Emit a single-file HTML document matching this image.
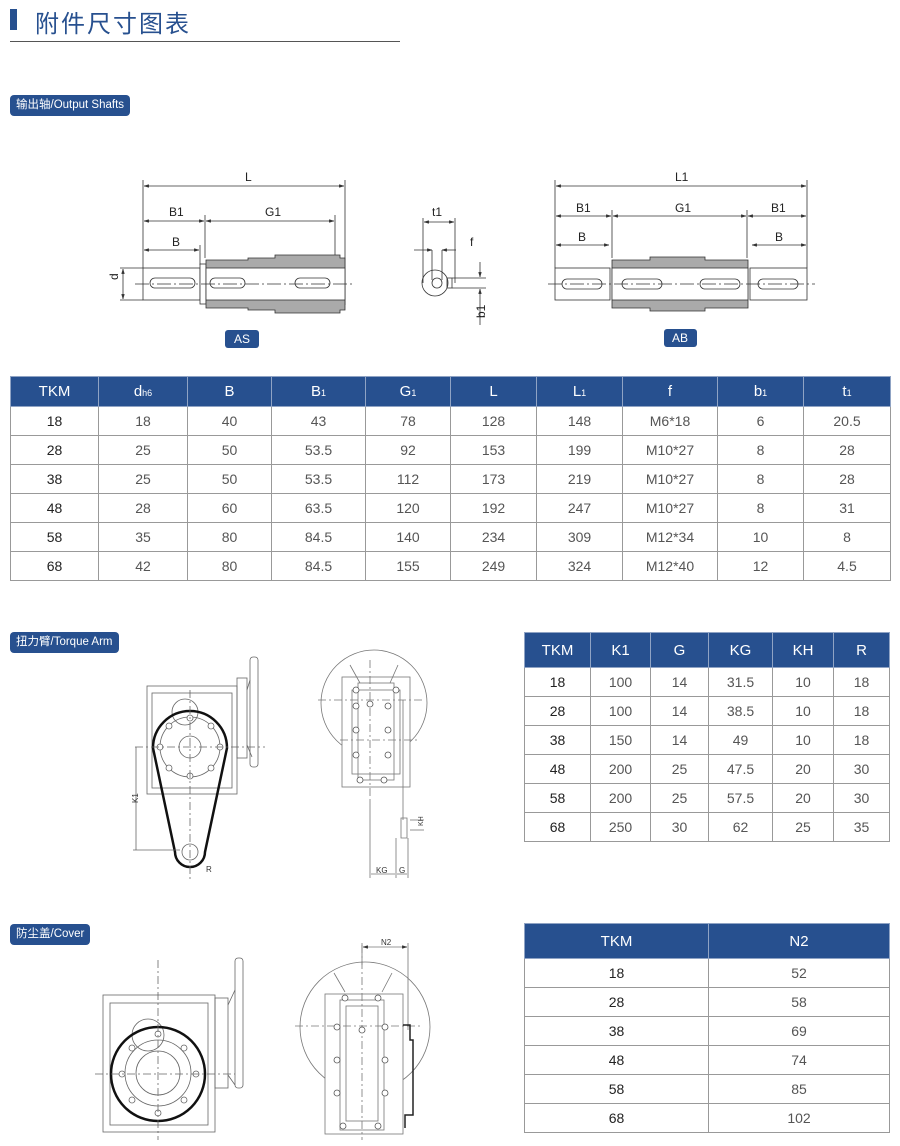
<!DOCTYPE html>
<html><head><meta charset="utf-8"><style>
body{margin:0;width:900px;height:1146px;background:#fff;position:relative;overflow:hidden;font-family:"Liberation Sans","Noto Sans CJK SC",sans-serif}
.abs{position:absolute}
.tag{position:absolute;background:#27508f;color:#fff;font-size:11.5px;border-radius:4px;padding:0 6px;height:21px;line-height:21px;white-space:nowrap}
table{position:absolute;border-collapse:collapse;table-layout:fixed;font-size:14px;color:#555}
th{background:#27508f;color:#fff;font-weight:normal;border:1px solid #8fa3c4;font-size:15px}
td{border:1px solid #999;text-align:center;padding:0}
td:first-child{color:#222}
sub{font-size:9px;vertical-align:baseline}
</style></head><body>
<div class="abs" style="left:10px;top:9px;width:7px;height:21px;background:#27508f"></div>
<div class="abs" style="left:35px;top:4px;font-size:24px;color:#27508f;letter-spacing:2px">附件尺寸图表</div>
<div class="abs" style="left:10px;top:41px;width:390px;height:1px;background:#555"></div>
<div class="tag" style="left:10px;top:95px">输出轴/Output Shafts</div>
<div class="tag" style="left:10px;top:632px">扭力臂/Torque Arm</div>
<div class="tag" style="left:10px;top:924px">防尘盖/Cover</div>

<svg class="abs" style="left:0;top:0" width="900" height="1146" font-family="Liberation Sans" font-size="12" fill="none" stroke="#333" stroke-width="0.8">
<defs><marker id="a" viewBox="0 0 10 10" refX="10" refY="5" markerWidth="6" markerHeight="6" orient="auto-start-reverse"><path d="M0,2L10,5L0,8z" fill="#333"/></marker></defs>
<g>
<line x1="143" y1="180" x2="143" y2="268"/><line x1="345" y1="180" x2="345" y2="305"/>
<line x1="205" y1="215" x2="205" y2="258"/><line x1="335" y1="215" x2="335" y2="258"/>
<line x1="200" y1="245" x2="200" y2="265"/>
<line x1="144" y1="186" x2="344" y2="186" marker-start="url(#a)" marker-end="url(#a)"/>
<line x1="144" y1="221" x2="204" y2="221" marker-start="url(#a)" marker-end="url(#a)"/>
<line x1="206" y1="221" x2="334" y2="221" marker-start="url(#a)" marker-end="url(#a)"/>
<line x1="144" y1="250" x2="199" y2="250" marker-start="url(#a)" marker-end="url(#a)"/>
<text x="245" y="181" fill="#222" stroke="none">L</text><text x="169" y="216" fill="#222" stroke="none">B1</text><text x="265" y="216" fill="#222" stroke="none">G1</text><text x="172" y="246" fill="#222" stroke="none">B</text>
<line x1="120" y1="268" x2="143" y2="268"/><line x1="120" y1="300" x2="143" y2="300"/><line x1="123" y1="269" x2="123" y2="299" marker-start="url(#a)" marker-end="url(#a)"/>
<text x="118" y="288" fill="#222" stroke="none" transform="rotate(-90 114 284)">d</text>
<rect x="143" y="268" width="57" height="32" fill="#fff" stroke="#333"/>
<rect x="200" y="264" width="6" height="40" fill="#fff"/>
<path d="M206 260H248V258H275V255H340V258H345V310H340V313H275V310H248V308H206Z" fill="#aaa" stroke="#333"/>
<rect x="206" y="268" width="139" height="32" fill="#fff" stroke="#333"/>
<rect x="150" y="278" width="45" height="10" rx="5"/><rect x="210" y="278" width="35" height="10" rx="5"/><rect x="295" y="278" width="35" height="10" rx="5"/>
<line x1="135" y1="284" x2="355" y2="284" stroke-dasharray="14 3 2 3"/>
</g>
<rect x="225" y="330" width="34" height="18" rx="3" fill="#27508f" stroke="none"/><text x="234" y="343" fill="#fff" stroke="none" font-size="12">AS</text>
<circle cx="435" cy="283" r="13"/><circle cx="437" cy="283" r="5"/>
<rect x="447" y="278" width="5" height="10"/>
<line x1="423" y1="218" x2="423" y2="283"/><line x1="455" y1="218" x2="455" y2="283"/>
<line x1="424" y1="222" x2="454" y2="222" marker-start="url(#a)" marker-end="url(#a)"/>
<text x="432" y="216" fill="#222" stroke="none">t1</text><text x="470" y="246" fill="#222" stroke="none">f</text>
<line x1="414" y1="250" x2="432" y2="250" marker-end="url(#a)"/><line x1="456" y1="250" x2="442" y2="250" marker-end="url(#a)"/>
<line x1="432" y1="250" x2="432" y2="280"/><line x1="442" y1="250" x2="442" y2="280"/>
<line x1="452" y1="278" x2="486" y2="278"/><line x1="452" y1="288" x2="486" y2="288"/>
<line x1="480" y1="262" x2="480" y2="277" marker-end="url(#a)"/><line x1="480" y1="325" x2="480" y2="289" marker-end="url(#a)"/>
<text x="478" y="325" fill="#222" stroke="none" transform="rotate(-90 478 318)">b1</text>
<line x1="555" y1="180" x2="555" y2="268"/><line x1="807" y1="180" x2="807" y2="268"/>
<line x1="612" y1="210" x2="612" y2="258"/><line x1="747" y1="210" x2="747" y2="258"/>
<line x1="556" y1="186" x2="806" y2="186" marker-start="url(#a)" marker-end="url(#a)"/>
<line x1="556" y1="216" x2="611" y2="216" marker-start="url(#a)" marker-end="url(#a)"/>
<line x1="613" y1="216" x2="746" y2="216" marker-start="url(#a)" marker-end="url(#a)"/>
<line x1="748" y1="216" x2="806" y2="216" marker-start="url(#a)" marker-end="url(#a)"/>
<line x1="556" y1="245" x2="609" y2="245" marker-start="url(#a)" marker-end="url(#a)"/>
<line x1="752" y1="245" x2="806" y2="245" marker-start="url(#a)" marker-end="url(#a)"/>
<text x="675" y="181" fill="#222" stroke="none">L1</text><text x="576" y="212" fill="#222" stroke="none">B1</text><text x="675" y="212" fill="#222" stroke="none">G1</text><text x="771" y="212" fill="#222" stroke="none">B1</text><text x="578" y="241" fill="#222" stroke="none">B</text><text x="775" y="241" fill="#222" stroke="none">B</text>
<rect x="555" y="268" width="55" height="32" fill="#fff"/><rect x="750" y="268" width="57" height="32" fill="#fff"/>
<path d="M612 260H650V257H705V260H748V308H705V311H650V308H612Z" fill="#aaa"/>
<rect x="612" y="268" width="136" height="32" fill="#fff"/>
<rect x="562" y="279" width="40" height="10" rx="5"/><rect x="622" y="279" width="40" height="10" rx="5"/><rect x="700" y="279" width="40" height="10" rx="5"/><rect x="758" y="279" width="40" height="10" rx="5"/>
<line x1="548" y1="284" x2="815" y2="284" stroke-dasharray="14 3 2 3"/>
<rect x="664" y="329" width="33" height="18" rx="3" fill="#27508f" stroke="none"/><text x="672" y="342" fill="#fff" stroke="none">AB</text>

<g stroke="#666">
<rect x="147" y="686" width="90" height="108"/><rect x="152" y="693" width="80" height="95"/>
<rect x="237" y="678" width="10" height="80"/><rect x="250" y="657" width="8" height="110" rx="3"/>
<path d="M247 690L250 680M247 745L252 757"/>
<circle cx="185" cy="712" r="13"/>
<circle cx="190" cy="747" r="30"/><circle cx="190" cy="747" r="11"/>
</g>
<path d="M153 748A37 37 0 0 1 227 748L205 852A15 15 0 0 1 175 852Z" stroke="#111" stroke-width="2.5"/>
<circle cx="190" cy="852" r="8" stroke="#666"/>
<g fill="#fff" stroke="#666"><circle cx="160" cy="747" r="3"/><circle cx="220" cy="747" r="3"/><circle cx="190" cy="718" r="3"/><circle cx="190" cy="776" r="3"/><circle cx="169" cy="726" r="3"/><circle cx="211" cy="726" r="3"/><circle cx="169" cy="768" r="3"/><circle cx="211" cy="768" r="3"/></g>
<line x1="190" y1="690" x2="190" y2="880" stroke="#666" stroke-dasharray="8 3 2 3"/>
<line x1="135" y1="747" x2="265" y2="747" stroke="#666" stroke-dasharray="8 3 2 3"/>
<line x1="136" y1="747" x2="136" y2="850" stroke="#666"/><line x1="133" y1="850" x2="180" y2="850" stroke="#666"/>
<text x="135" y="806" fill="#333" stroke="none" font-size="8" transform="rotate(-90 135 803)">K1</text>
<text x="206" y="872" fill="#333" stroke="none" font-size="8">R</text>
<g stroke="#777">
<circle cx="374" cy="703" r="53"/>
<rect x="342" y="677" width="68" height="110" fill="#fff"/><rect x="358" y="683" width="36" height="97"/><rect x="352" y="690" width="48" height="84"/>
<path d="M350 665L360 683M398 665L390 683"/>
<line x1="370" y1="660" x2="370" y2="800" stroke-dasharray="8 3 2 3"/>
<line x1="318" y1="700" x2="425" y2="700" stroke-dasharray="8 3 2 3"/>
<line x1="340" y1="740" x2="420" y2="740" stroke-dasharray="8 3 2 3"/>
<path d="M403 700V820M401 818h6v20h-6z"/>
<line x1="370" y1="800" x2="370" y2="878"/><line x1="396" y1="838" x2="396" y2="878"/><line x1="408" y1="838" x2="408" y2="878"/>
<line x1="371" y1="874" x2="395" y2="874"/><line x1="397" y1="874" x2="407" y2="874"/>
<line x1="410" y1="820" x2="424" y2="820"/><line x1="410" y1="830" x2="424" y2="830"/>
</g>
<g fill="#fff" stroke="#555"><circle cx="356" cy="690" r="3"/><circle cx="396" cy="690" r="3"/><circle cx="356" cy="706" r="3"/><circle cx="388" cy="706" r="3"/><circle cx="356" cy="730" r="3"/><circle cx="388" cy="730" r="3"/><circle cx="356" cy="755" r="3"/><circle cx="388" cy="755" r="3"/><circle cx="360" cy="780" r="3"/><circle cx="384" cy="780" r="3"/><circle cx="370" cy="704" r="3"/></g>
<text x="376" y="873" fill="#333" stroke="none" font-size="8">KG</text><text x="399" y="873" fill="#333" stroke="none" font-size="8">G</text>
<text x="420" y="829" fill="#333" stroke="none" font-size="7" transform="rotate(-90 420 826)">KH</text>

<g stroke="#666">
<rect x="103" y="995" width="112" height="137"/><rect x="110" y="1003" width="98" height="122"/>
<rect x="215" y="998" width="13" height="90"/><rect x="235" y="958" width="8" height="130" rx="3"/>
<path d="M228 1005L235 990M228 1075L235 1085"/>
<circle cx="148" cy="1035" r="16"/>
<circle cx="158" cy="1073" r="33"/><circle cx="158" cy="1073" r="22"/>
</g>
<circle cx="158" cy="1074" r="47" stroke="#111" stroke-width="2.5"/>
<g fill="#fff" stroke="#666"><circle cx="158" cy="1034" r="3"/><circle cx="158" cy="1113" r="3"/><circle cx="122" cy="1074" r="3"/><circle cx="196" cy="1074" r="3"/><circle cx="132" cy="1048" r="3"/><circle cx="184" cy="1048" r="3"/><circle cx="132" cy="1100" r="3"/><circle cx="184" cy="1100" r="3"/></g>
<line x1="158" y1="960" x2="158" y2="1140" stroke="#666" stroke-dasharray="8 3 2 3"/>
<line x1="95" y1="1074" x2="235" y2="1074" stroke="#666" stroke-dasharray="8 3 2 3"/>
<g stroke="#777">
<circle cx="365" cy="1027" r="65"/>
<rect x="325" y="994" width="78" height="140" fill="#fff"/><rect x="340" y="1000" width="44" height="130"/><rect x="346" y="1006" width="32" height="115"/>
<path d="M334 973L345 992M392 973L382 992"/>
<line x1="362" y1="945" x2="362" y2="1140" stroke-dasharray="8 3 2 3"/>
<line x1="295" y1="1026" x2="420" y2="1026" stroke-dasharray="8 3 2 3"/>
<line x1="362" y1="943" x2="362" y2="965"/><line x1="408" y1="943" x2="408" y2="1030"/>
<line x1="363" y1="947" x2="407" y2="947" marker-start="url(#a)" marker-end="url(#a)"/>
</g>
<path d="M403 1025H410V1040H413V1115H405V1128" stroke="#222" stroke-width="1.5"/>
<g fill="#fff" stroke="#555"><circle cx="345" cy="998" r="3"/><circle cx="378" cy="998" r="3"/><circle cx="337" cy="1027" r="3"/><circle cx="385" cy="1027" r="3"/><circle cx="337" cy="1060" r="3"/><circle cx="385" cy="1060" r="3"/><circle cx="337" cy="1093" r="3"/><circle cx="385" cy="1093" r="3"/><circle cx="343" cy="1126" r="3"/><circle cx="378" cy="1126" r="3"/><circle cx="362" cy="1030" r="3"/></g>
<text x="381" y="945" fill="#333" stroke="none" font-size="8">N2</text>
</svg>

<table style="left:10px;top:376px;width:880px">
<colgroup><col style="width:88px"><col style="width:89px"><col style="width:84px"><col style="width:94px"><col style="width:85px"><col style="width:86px"><col style="width:86px"><col style="width:95px"><col style="width:86px"><col style="width:87px"></colgroup>
<tr style="height:30px"><th>TKM</th><th>d<sub>h6</sub></th><th>B</th><th>B<sub>1</sub></th><th>G<sub>1</sub></th><th>L</th><th>L<sub>1</sub></th><th>f</th><th>b<sub>1</sub></th><th>t<sub>1</sub></th></tr>
<tr style="height:29px"><td>18</td><td>18</td><td>40</td><td>43</td><td>78</td><td>128</td><td>148</td><td>M6*18</td><td>6</td><td>20.5</td></tr>
<tr style="height:29px"><td>28</td><td>25</td><td>50</td><td>53.5</td><td>92</td><td>153</td><td>199</td><td>M10*27</td><td>8</td><td>28</td></tr>
<tr style="height:29px"><td>38</td><td>25</td><td>50</td><td>53.5</td><td>112</td><td>173</td><td>219</td><td>M10*27</td><td>8</td><td>28</td></tr>
<tr style="height:29px"><td>48</td><td>28</td><td>60</td><td>63.5</td><td>120</td><td>192</td><td>247</td><td>M10*27</td><td>8</td><td>31</td></tr>
<tr style="height:29px"><td>58</td><td>35</td><td>80</td><td>84.5</td><td>140</td><td>234</td><td>309</td><td>M12*34</td><td>10</td><td>8</td></tr>
<tr style="height:29px"><td>68</td><td>42</td><td>80</td><td>84.5</td><td>155</td><td>249</td><td>324</td><td>M12*40</td><td>12</td><td>4.5</td></tr>
</table>

<table style="left:524px;top:632px;width:365px">
<colgroup><col style="width:66px"><col style="width:60px"><col style="width:58px"><col style="width:64px"><col style="width:61px"><col style="width:56px"></colgroup>
<tr style="height:35px"><th>TKM</th><th>K1</th><th>G</th><th>KG</th><th>KH</th><th>R</th></tr>
<tr style="height:29px"><td>18</td><td>100</td><td>14</td><td>31.5</td><td>10</td><td>18</td></tr>
<tr style="height:29px"><td>28</td><td>100</td><td>14</td><td>38.5</td><td>10</td><td>18</td></tr>
<tr style="height:29px"><td>38</td><td>150</td><td>14</td><td>49</td><td>10</td><td>18</td></tr>
<tr style="height:29px"><td>48</td><td>200</td><td>25</td><td>47.5</td><td>20</td><td>30</td></tr>
<tr style="height:29px"><td>58</td><td>200</td><td>25</td><td>57.5</td><td>20</td><td>30</td></tr>
<tr style="height:29px"><td>68</td><td>250</td><td>30</td><td>62</td><td>25</td><td>35</td></tr>
</table>

<table style="left:524px;top:923px;width:365px">
<colgroup><col style="width:184px"><col style="width:181px"></colgroup>
<tr style="height:35px"><th>TKM</th><th>N2</th></tr>
<tr style="height:29px"><td>18</td><td>52</td></tr>
<tr style="height:29px"><td>28</td><td>58</td></tr>
<tr style="height:29px"><td>38</td><td>69</td></tr>
<tr style="height:29px"><td>48</td><td>74</td></tr>
<tr style="height:29px"><td>58</td><td>85</td></tr>
<tr style="height:29px"><td>68</td><td>102</td></tr>
</table>
</body></html>
